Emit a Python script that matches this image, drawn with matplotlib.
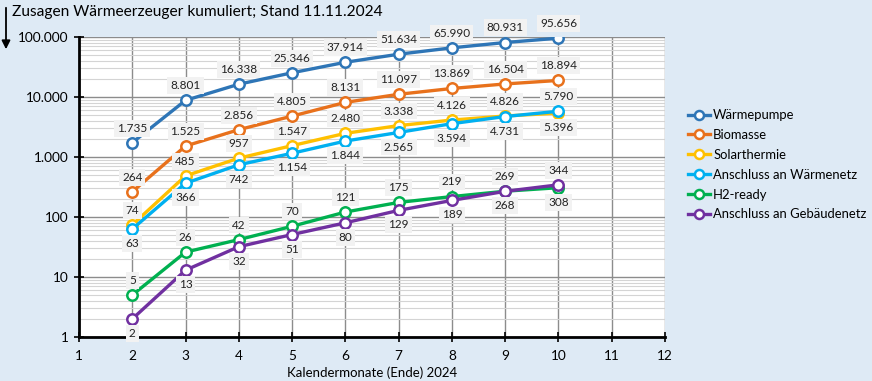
import matplotlib
matplotlib.use("Agg")
import matplotlib.pyplot as plt
from matplotlib.ticker import FixedLocator, FuncFormatter, LogLocator, NullFormatter

plt.rcParams['font.family'] = ['Lato', 'DejaVu Sans']

months = [2, 3, 4, 5, 6, 7, 8, 9, 10]
series_names = ["Wärmepumpe", "Biomasse", "Solarthermie", "Anschluss an Wärmenetz",
                "H2-ready", "Anschluss an Gebäudenetz"]
waermepumpe = [1735, 8801, 16338, 25346, 37914, 51634, 65990, 80931, 95656]
biomasse = [264, 1525, 2856, 4805, 8131, 11097, 13869, 16504, 18894]
solarthermie = [74, 485, 957, 1547, 2480, 3338, 4126, 4826, 5396]
waermenetz = [63, 366, 742, 1154, 1844, 2565, 3594, 4731, 5790]
h2_ready = [5, 26, 42, 70, 121, 175, 219, 269, 308]
gebaeudenetz = [2, 13, 32, 51, 80, 129, 189, 268, 344]
title = "Zusagen Wärmeerzeuger kumuliert; Stand 11.11.2024"
xlabel = "Kalendermonate (Ende) 2024"

colors = ["#2e75b6", "#e8711c", "#ffc000", "#00b0f0", "#00b050", "#7030a0"]
data = [waermepumpe, biomasse, solarthermie, waermenetz, h2_ready, gebaeudenetz]
# label placement: +1 above, -1 below
placement = [
    [1] * 9,
    [1] * 9,
    [1, 1, 1, 1, 1, 1, 1, 1, -1],
    [-1, -1, -1, -1, -1, -1, -1, -1, 1],
    [1, 1, 1, 1, 1, 1, 1, 1, -1],
    [-1, -1, -1, -1, -1, -1, -1, -1, 1],
]

def fmt(v):
    return f"{int(v):,}".replace(",", ".")

bg = "#deeaf5"
fig = plt.figure(figsize=(8.72, 3.81), dpi=100, facecolor=bg)
ax = fig.add_axes([79 / 872, 1 - 337 / 381, (665 - 79) / 872, (337 - 37) / 381])
ax.set_facecolor("white")
ax.set_yscale("log")
ax.set_xlim(1, 12)
ax.set_ylim(1, 100000)

ax.xaxis.set_major_locator(FixedLocator(range(1, 13)))
ax.yaxis.set_major_locator(FixedLocator([1, 10, 100, 1000, 10000, 100000]))
ax.yaxis.set_minor_locator(LogLocator(base=10, subs=range(2, 10)))
ax.yaxis.set_major_formatter(FuncFormatter(lambda v, p: fmt(v)))
ax.yaxis.set_minor_formatter(NullFormatter())

ax.grid(which="major", axis="x", color="#8c8c8c", lw=1.0, zorder=0)
ax.grid(which="major", axis="y", color="#8c8c8c", lw=1.0, zorder=0)
ax.grid(which="minor", axis="y", color="#d4d4d4", lw=0.8, zorder=0)
ax.set_axisbelow(True)

for s in ["top", "right"]:
    ax.spines[s].set_visible(False)
for s in ["left", "bottom"]:
    ax.spines[s].set_color("black")
    ax.spines[s].set_linewidth(2.0)

ax.tick_params(axis="both", which="major", direction="inout", length=7, width=1.2,
               labelsize=9.8, colors="black", pad=4)
ax.tick_params(axis="y", which="minor", length=0)
ax.tick_params(axis="x", pad=6)

handles = []
for name, vals, c in zip(series_names, data, colors):
    ln, = ax.plot(months, vals, color=c, lw=2.4, marker="o", ms=7.5, mfc="white",
                  mec=c, mew=1.8, zorder=3, label=name)
    handles.append(ln)

for vals, plc in zip(data, placement):
    for x, v, p in zip(months, vals, plc):
        ax.annotate(fmt(v), (x, v), xytext=(0, 10.5 * p), textcoords="offset points",
                    ha="center", va="center", fontsize=8.5, color="#222222",
                    bbox=dict(boxstyle="square,pad=0.25", fc="#f2f2f2", ec="none"),
                    zorder=5, annotation_clip=False)

ax.set_xlabel(xlabel, fontsize=9.5, labelpad=3)

fig.text(12 / 872, 1 - 12 / 381, title, fontsize=11.2, ha="left", va="center")
fig.add_artist(matplotlib.patches.FancyArrowPatch(
    (6 / 872, 1 - 5 / 381), (6 / 872, 1 - 52 / 381), transform=fig.transFigure,
    arrowstyle="-|>,head_length=5,head_width=2.5", color="black", lw=1.3))

leg = fig.legend(handles=handles, loc="upper left", bbox_to_anchor=(683 / 872, 1 - 104 / 381),
                 frameon=False, fontsize=9.4, handlelength=1.7, handletextpad=0.2,
                 labelspacing=0.6, borderaxespad=0)
for h in leg.legend_handles:
    h.set_markersize(6.5)

fig.savefig("out.png", dpi=100, facecolor=bg)
